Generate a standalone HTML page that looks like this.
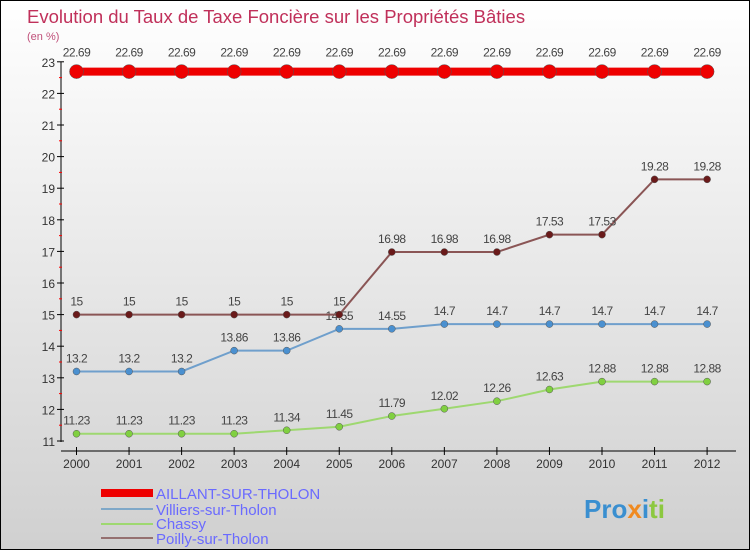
<!DOCTYPE html>
<html><head><meta charset="utf-8"><style>
body{margin:0}
#c{width:750px;height:550px;position:relative;box-sizing:border-box;border:1px solid #000;background:linear-gradient(#fff,#d0d0d0);font-family:"Liberation Sans",sans-serif;overflow:hidden}
svg text{font-family:"Liberation Sans",sans-serif}
</style></head><body>
<div id="c">
<svg id="s" width="750" height="550">
<text x="26" y="22" font-size="18.5" fill="#c0305a">Evolution du Taux de Taxe Foncière sur les Propriétés Bâties</text>
<text x="26" y="39" font-size="11" fill="#c0507a">(en %)</text>
<g id="axes"></g><g id="series"></g>
<g>
<rect x="100" y="488" width="52" height="8" fill="#e00"/>
<text x="155" y="498" font-size="15" fill="#6a6aff">AILLANT-SUR-THOLON</text>
<rect x="100" y="507" width="52" height="2" fill="#7fa8c8"/>
<text x="155" y="514" font-size="15" fill="#6a6aff">Villiers-sur-Tholon</text>
<rect x="100" y="522" width="52" height="2" fill="#9ed870"/>
<text x="155" y="528" font-size="15" fill="#6a6aff">Chassy</text>
<rect x="100" y="536" width="52" height="2" fill="#957070"/>
<text x="155" y="543" font-size="15" fill="#6a6aff">Poilly-sur-Tholon</text>
</g>
<text x="583" y="517" font-size="26" font-weight="bold"><tspan fill="#3a8fd0">Pro</tspan><tspan fill="#f08a20">x</tspan><tspan fill="#3a8fd0">i</tspan><tspan fill="#8cc840">ti</tspan></text>
</svg></div>
<script>
const years=["2000","2001","2002","2003","2004","2005","2006","2007","2008","2009","2010","2011","2012"];
const aillant=[22.69,22.69,22.69,22.69,22.69,22.69,22.69,22.69,22.69,22.69,22.69,22.69,22.69];
const villiers=[13.2,13.2,13.2,13.86,13.86,14.55,14.55,14.7,14.7,14.7,14.7,14.7,14.7];
const chassy=[11.23,11.23,11.23,11.23,11.34,11.45,11.79,12.02,12.26,12.63,12.88,12.88,12.88];
const poilly=[15,15,15,15,15,15,16.98,16.98,16.98,17.53,17.53,19.28,19.28];
const yTicks=[11,12,13,14,15,16,17,18,19,20,21,22,23];
const NS="http://www.w3.org/2000/svg";
const xs=i=>75.5+i*52.55;
const ys=v=>440-(v-11)*31.6;
function mk(t,a,p){const e=document.createElementNS(NS,t);for(const k in a)e.setAttribute(k,a[k]);p.appendChild(e);return e;}
const ax=document.getElementById('axes'),sg=document.getElementById('series');
let l=mk('line',{x1:60,y1:ys(23),x2:60,y2:441,stroke:'#000'},ax);

yTicks.forEach(v=>{const y=ys(v);
 mk('line',{x1:56,y1:y,x2:63,y2:y,stroke:'#000'},ax);
 if(v<23)mk('line',{x1:58,y1:y-15.8,x2:61,y2:y-15.8,stroke:'#f00'},ax);
 const t=mk('text',{x:54,y:y+5,'font-size':12,fill:'#333','text-anchor':'end'},ax);t.textContent=v;
 });
l=mk('line',{x1:60,y1:450,x2:735,y2:450,stroke:'#000'},ax);

years.forEach((y,i)=>{const x=xs(i);mk('line',{x1:x,y1:446,x2:x,y2:454,stroke:'#000'},ax);
 const t=mk('text',{x:x,y:467,'font-size':12,fill:'#333','text-anchor':'middle'},ax);t.textContent=y;
 });
function series(d,col,w,r,name,dot){
 const g=mk('g',{},sg);
 const p=mk('polyline',{points:d.map((v,i)=>xs(i)+','+ys(v)).join(' '),fill:'none',stroke:col,'stroke-width':w},g);
 
 d.forEach((v,i)=>{const c=mk('circle',{cx:xs(i),cy:ys(v),r:r,fill:dot,stroke:'#555','stroke-width':0.5},g);
  
  const t=mk('text',{x:xs(i),y:ys(v)-(name==='aillant'?15:9),'font-size':12,fill:'#444','text-anchor':'middle','letter-spacing':'-0.5'},g);
  t.textContent=String(v);});
}
series(chassy,'#9ed870',2,3.5,'chassy','#80d040');
series(villiers,'#6f9fcc',2,3.5,'villiers','#4a90d0');
series(poilly,'#8a5555',2,3.5,'poilly','#6a1a1a');
series(aillant,'#e00',8,7,'aillant','#e00');
</script>
</body></html>
